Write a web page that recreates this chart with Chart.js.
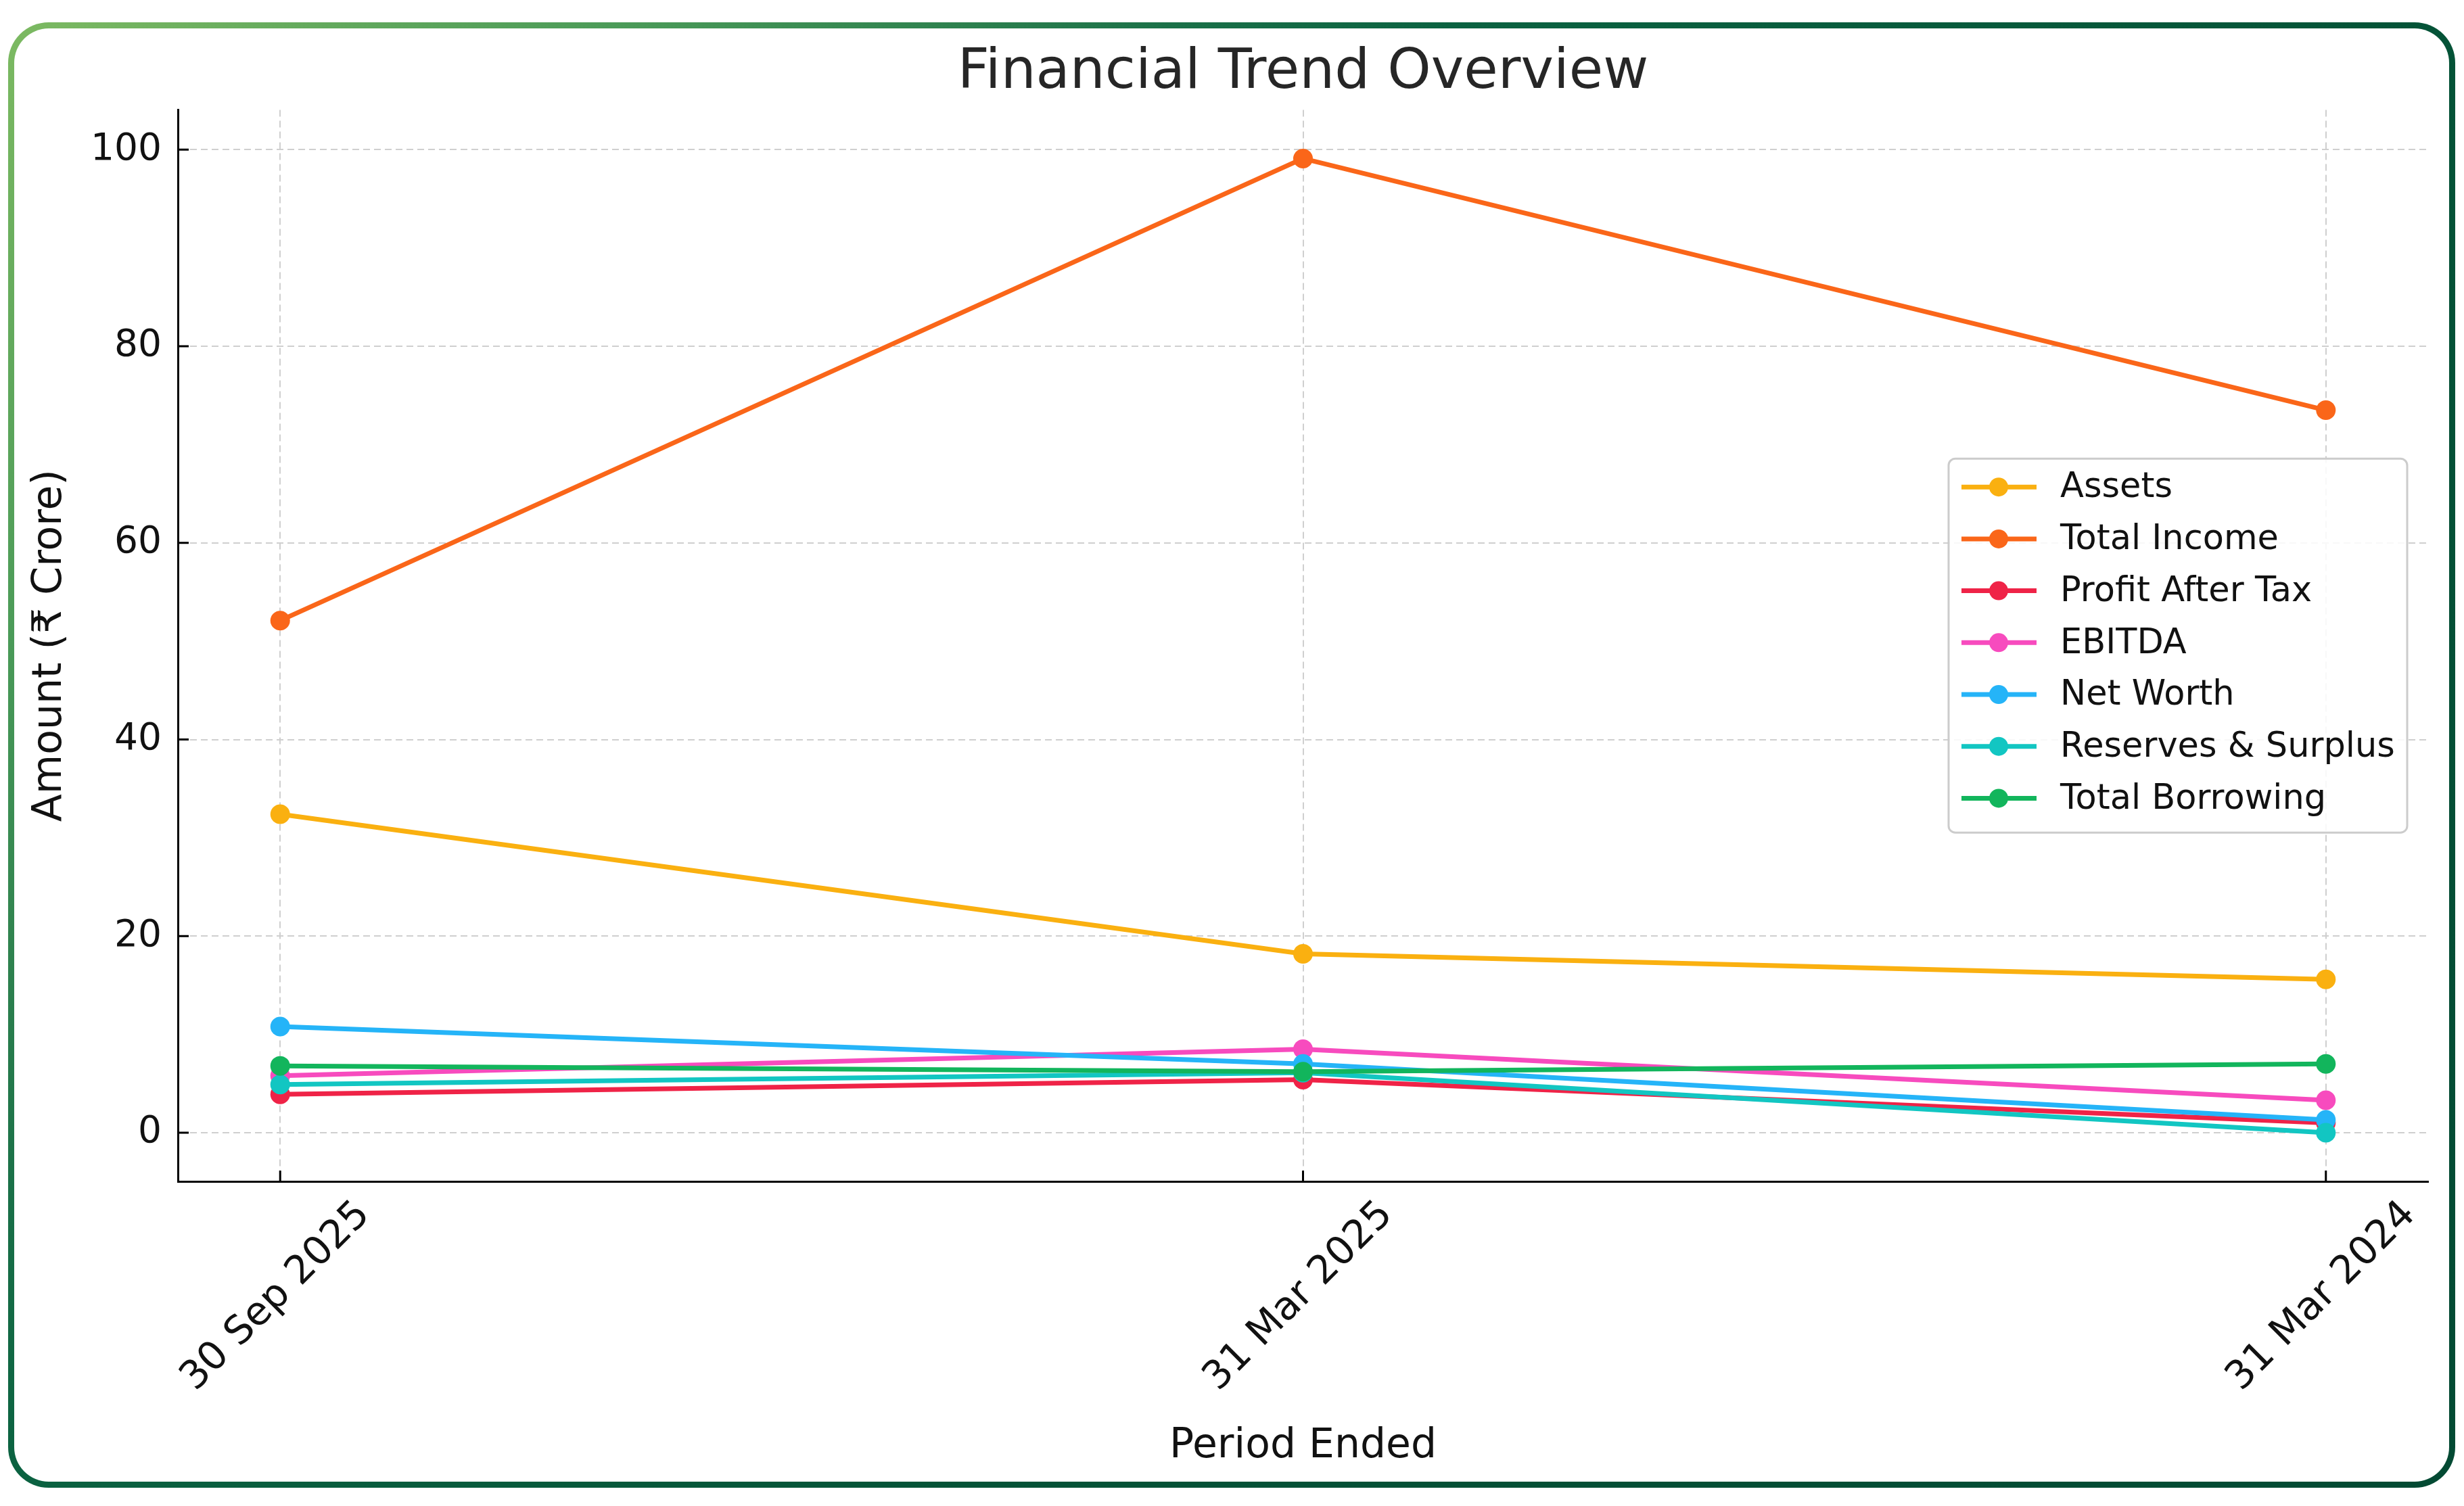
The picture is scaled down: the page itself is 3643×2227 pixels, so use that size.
<!DOCTYPE html>
<html lang="en">
<head>
  <meta charset="UTF-8">
  <title>Financial Trend Overview</title>
  <style>
    html, body { margin: 0; padding: 0; background: #fff; }
    #wrap { position: relative; width: 3643px; height: 2227px; }
    #frame {
      position: absolute; left: 12px; top: 33px; width: 3618px; height: 2167px;
      box-sizing: border-box; border: 9px solid transparent; border-radius: 60px;
      background: linear-gradient(#fff, #fff) padding-box,
        linear-gradient(135deg, #7dba62 0%, #4a9a58 16%, #1a7048 30%, #0b6241 37%, #045337 62%, #034a33 100%) border-box;
    }
    canvas { position: absolute; left: 0; top: 0; }
  </style>
</head>
<body>
<div id="wrap">
  <div id="frame"></div>
  <canvas id="trendChart" width="3643" height="2227"></canvas>
</div>

<script src="https://cdn.jsdelivr.net/npm/chart.js"></script>
<script>
  // periods on the x axis (as printed, newest first)
  const periods = ['30 Sep 2025', '31 Mar 2025', '31 Mar 2024'];

  // values in ₹ crore
  const assets          = [32.4, 18.2, 15.6];
  const totalIncome     = [52.1, 99.1, 73.5];
  const profitAfterTax  = [3.9, 5.4, 1.0];
  const ebitda          = [5.8, 8.5, 3.3];
  const netWorth        = [10.8, 7.0, 1.3];
  const reservesSurplus = [4.9, 6.1, 0.0];
  const totalBorrowing  = [6.8, 6.2, 7.0];

  const seriesNames = ['Assets', 'Total Income', 'Profit After Tax', 'EBITDA', 'Net Worth', 'Reserves & Surplus', 'Total Borrowing'];
  const seriesColors = ['#fab010', '#fa6619', '#ef2347', '#f74bbe', '#25b4f8', '#12c6c2', '#12b55c'];
  const yTicks = [0, 20, 40, 60, 80, 100];

  const allSeries = [assets, totalIncome, profitAfterTax, ebitda, netWorth, reservesSurplus, totalBorrowing];
  const FONT = 'DejaVu Sans';

  // small inward tick marks like the original
  const innerTicks = {
    id: 'innerTicks',
    afterDatasetsDraw(chart) {
      const { ctx, chartArea, scales } = chart;
      ctx.save();
      ctx.strokeStyle = '#000';
      ctx.lineWidth = 3;
      ctx.beginPath();
      scales.x.ticks.forEach(t => {
        const x = scales.x.getPixelForValue(t.value);
        ctx.moveTo(x, chartArea.bottom);
        ctx.lineTo(x, chartArea.bottom - 16);
      });
      scales.y.ticks.forEach(t => {
        const y = scales.y.getPixelForValue(t.value);
        ctx.moveTo(chartArea.left, y);
        ctx.lineTo(chartArea.left + 16, y);
      });
      ctx.stroke();
      ctx.restore();
    }
  };

  // legend box at centre right, drawn from the datasets
  const boxLegend = {
    id: 'boxLegend',
    afterDraw(chart) {
      const { ctx, chartArea } = chart;
      const w = 678, h = 553, rowH = 76.7;
      const left = chartArea.right - 31 - w;
      const top = (chartArea.top + chartArea.bottom) / 2 - h / 2;
      ctx.save();
      ctx.fillStyle = 'rgba(255,255,255,0.85)';
      ctx.strokeStyle = '#cccccc';
      ctx.lineWidth = 3;
      ctx.beginPath();
      ctx.roundRect(left, top, w, h, 10);
      ctx.fill();
      ctx.stroke();
      ctx.font = '51px "' + FONT + '"';
      ctx.textBaseline = 'middle';
      chart.data.datasets.forEach((ds, i) => {
        const y = top + 42 + i * rowH;
        ctx.strokeStyle = ds.borderColor;
        ctx.lineWidth = 7;
        ctx.beginPath();
        ctx.moveTo(left + 19, y);
        ctx.lineTo(left + 130, y);
        ctx.stroke();
        ctx.fillStyle = ds.borderColor;
        ctx.beginPath();
        ctx.arc(left + 74, y, 14, 0, Math.PI * 2);
        ctx.fill();
        ctx.fillStyle = '#111';
        ctx.fillText(ds.label, left + 165, y + 2);
      });
      ctx.restore();
    }
  };

  const ctx = document.getElementById('trendChart').getContext('2d');
  new Chart(ctx, {
    type: 'line',
    data: {
      datasets: allSeries.map((vals, i) => ({
        label: seriesNames[i],
        data: vals.map((v, j) => ({ x: j, y: v })),
        borderColor: seriesColors[i],
        backgroundColor: seriesColors[i],
        pointBackgroundColor: seriesColors[i],
        pointBorderColor: seriesColors[i],
        borderWidth: 7,
        pointRadius: 14.5,
        pointBorderWidth: 0,
        tension: 0,
        order: allSeries.length - i
      }))
    },
    options: {
      responsive: false,
      animation: false,
      events: [],
      layout: { padding: { left: 20, right: 53, top: 0, bottom: 40 } },
      plugins: {
        legend: { display: false },
        tooltip: { enabled: false },
        title: {
          display: true,
          fullSize: false,
          text: 'Financial Trend Overview',
          color: '#262626',
          font: { family: FONT, size: 82, weight: 'normal' },
          padding: { top: 60, bottom: 4 }
        }
      },
      scales: {
        x: {
          type: 'linear',
          min: -0.1,
          max: 2.1,
          afterBuildTicks: s => { s.ticks = periods.map((p, i) => ({ value: i })); },
          afterFit: s => { s.height = 440; },
          ticks: {
            callback: v => periods[v],
            autoSkip: false,
            minRotation: 45,
            maxRotation: 45,
            padding: 16,
            labelOffset: 124,
            color: '#111',
            font: { family: FONT, size: 58 }
          },
          grid: { color: '#cfcfcf', lineWidth: 2, drawTicks: false },
          border: { display: true, color: '#000', width: 3, dash: [10, 6] },
          title: {
            display: true,
            text: 'Period Ended',
            color: '#111',
            font: { family: FONT, size: 60 },
            padding: { top: 0, bottom: 12 }
          }
        },
        y: {
          min: -4.955,
          max: 104.055,
          afterBuildTicks: s => { s.ticks = yTicks.map(v => ({ value: v })); },
          afterFit: s => { s.width = 243; },
          ticks: {
            padding: 24,
            color: '#111',
            font: { family: FONT, size: 55 }
          },
          grid: { color: '#cfcfcf', lineWidth: 2, drawTicks: false },
          border: { display: true, color: '#000', width: 3, dash: [10, 6] },
          title: {
            display: true,
            text: 'Amount (₹ Crore)',
            color: '#111',
            font: { family: FONT, size: 60 },
            padding: { top: 18, bottom: 0 }
          }
        }
      }
    },
    plugins: [innerTicks, boxLegend]
  });
</script>
</body>
</html>
